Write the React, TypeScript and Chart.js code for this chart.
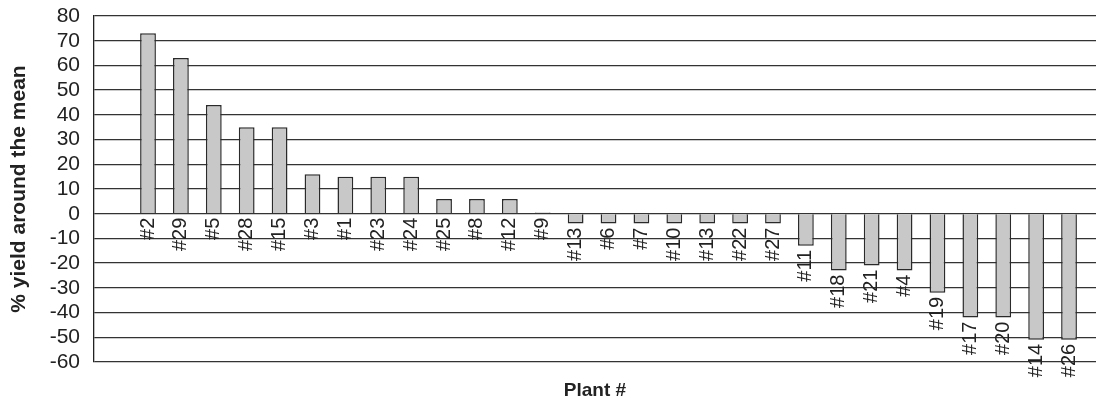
import React, { useEffect, useRef } from "react";
import { Chart, registerables } from "chart.js";

Chart.register(...registerables);

const plantLabels = ["#2", "#29", "#5", "#28", "#15", "#3", "#1", "#23", "#24", "#25", "#8", "#12", "#9", "#13", "#6", "#7", "#10", "#13", "#22", "#27", "#11", "#18", "#21", "#4", "#19", "#17", "#20", "#14", "#26"];
const yieldValues = [73, 63, 44, 35, 35, 16, 15, 15, 15, 6, 6, 6, 0.5, -4, -4, -4, -4, -4, -4, -4, -13, -23, -21, -23, -32, -42, -42, -51, -51];
const yTicks = [80, 70, 60, 50, 40, 30, 20, 10, 0, -10, -20, -30, -40, -50, -60];

const FONT = "'Liberation Sans', Arial, Helvetica, sans-serif";

const barLabelPlugin = {
  id: "barLabels",
  afterDatasetsDraw(chart: any) {
    const { ctx, scales } = chart;
    const xs = scales.x;
    const ys = scales.y;
    ctx.save();
    ctx.fillStyle = "#222";
    ctx.font = `20px ${FONT}`;
    ctx.textAlign = "right";
    ctx.textBaseline = "middle";
    plantLabels.forEach((lab, i) => {
      const v = yieldValues[i];
      const px = xs.getPixelForValue(i);
      const py = ys.getPixelForValue(Math.min(0, v)) + 4;
      ctx.save();
      ctx.translate(px, py);
      ctx.rotate(-Math.PI / 2);
      ctx.fillText(lab, 0, 0);
      ctx.restore();
    });
    ctx.restore();
  },
};

export default function App() {
  const ref = useRef<HTMLCanvasElement | null>(null);
  useEffect(() => {
    document.body.style.margin = "0";
    const canvas = ref.current;
    if (!canvas) return;
    const chart = new Chart(canvas, {
      type: "bar",
      data: {
        datasets: [
          {
            data: yieldValues.map((v, i) => ({ x: i, y: v })),
            backgroundColor: "#c8c8c8",
            borderColor: "#2a2a2a",
            borderWidth: 1.5,
            barPercentage: 0.48,
            categoryPercentage: 1,
          },
        ],
      },
      options: {
        responsive: false,
        animation: false,
        layout: { padding: { top: 16, left: 0, right: 0, bottom: 0 } },
        plugins: { legend: { display: false }, tooltip: { enabled: false } },
        scales: {
          x: {
            type: "linear",
            offset: false,
            min: -1.642,
            max: 28.82,
            grid: { display: false, offset: false },
            border: { display: false },
            ticks: { display: false },
            title: {
              display: true,
              text: "Plant #",
              color: "#222",
              font: { family: FONT, size: 19, weight: "bold", lineHeight: 1 },
              padding: { top: 0, bottom: -2.5 },
            },
            afterFit(scale: any) {
              scale.height = 36;
              scale.paddingLeft = 0;
              scale.paddingRight = 0;
            },
          },
          y: {
            min: -60,
            max: 80,
            afterBuildTicks(scale: any) {
              scale.ticks = yTicks.map((v) => ({ value: v }));
            },
            ticks: {
              color: "#222",
              font: { family: FONT, size: 21 },
              padding: 14,
              autoSkip: false,
            },
            grid: { color: "#333", lineWidth: 1.3, drawTicks: false },
            border: { display: true, color: "#222", width: 1.3 },
            title: {
              display: true,
              text: "% yield around the mean",
              color: "#222",
              font: { family: FONT, size: 21, weight: "bold", lineHeight: 1 },
              padding: { top: 9, bottom: 0 },
            },
            afterFit(scale: any) {
              scale.width = 94;
              scale.paddingTop = 0;
              scale.paddingBottom = 0;
            },
          },
        },
      },
      plugins: [barLabelPlugin],
    });
    return () => chart.destroy();
  }, []);
  return <canvas ref={ref} width={1096} height={398} style={{ display: "block" }} />;
}
